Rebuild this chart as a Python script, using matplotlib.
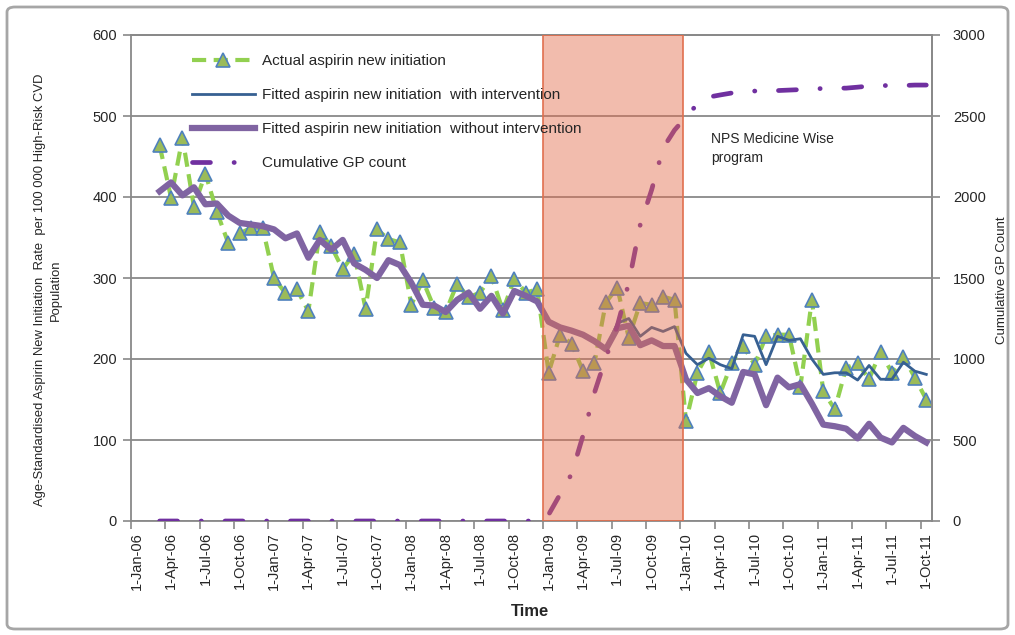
import matplotlib.pyplot as plt
import matplotlib.patches as mpatches
from matplotlib.ticker import NullFormatter
import pandas as pd

plt.rcParams['font.family'] = ['Liberation Sans', 'DejaVu Sans']

# monthly series, Mar 2006 - Oct 2011
months = pd.date_range("2006-03-01", "2011-10-01", freq="MS")

actual = [464, 399, 473, 388, 429, 382, 343, 355, 362, 362, 300, 281,
          286, 259, 357, 339, 311, 330, 262, 360, 348, 344, 267, 297,
          263, 258, 293, 276, 282, 302, 260, 299, 282, 286,
          183, 230, 219, 185, 195, 270, 288, 226, 269, 267, 277, 273,
          123, 183, 209, 158, 195, 216, 193, 228, 230, 230, 166, 273,
          160, 138, 189, 195, 175, 209, 183, 203, 177, 150]

fit_with = [407, 418, 402, 412, 391, 392, 377, 368, 366, 364, 360, 349,
            355, 325, 347, 335, 347, 318, 310, 300, 322, 316, 294, 267,
            266, 258, 273, 282, 262, 278, 256, 284, 278, 271,
            246, 239, 235, 230, 222, 212, 244, 250, 228, 239, 234, 240,
            207, 193, 201, 193, 188, 230, 228, 193, 228, 223, 225, 200,
            181, 183, 183, 174, 192, 175, 175, 196, 185, 181]

fit_without = [407, 418, 402, 412, 391, 392, 377, 368, 366, 364, 360, 349,
               355, 325, 347, 335, 347, 318, 310, 300, 322, 316, 294, 267,
               266, 258, 273, 282, 262, 278, 256, 284, 278, 271,
               246, 239, 235, 230, 222, 212, 238, 241, 217, 223, 216, 216,
               175, 158, 164, 154, 146, 184, 181, 143, 177, 165, 169, 145,
               119, 117, 114, 102, 120, 103, 97, 115, 105, 97]

gp_count = [0, 0, 0, 0, 0, 0, 0, 0, 0, 0, 0, 0,
            0, 0, 0, 0, 0, 0, 0, 0, 0, 0, 0, 0,
            0, 0, 0, 0, 0, 0, 0, 0, 0, 0,
            40, 165, 290, 527, 792, 1008, 1205, 1470, 1828, 2044, 2302, 2413,
            2494, 2574, 2617, 2630, 2642, 2648, 2654, 2654, 2657, 2660, 2663, 2667,
            2670, 2672, 2672, 2678, 2685, 2688, 2688, 2688, 2691, 2691]

tick_dates = pd.date_range("2006-01-01", "2011-10-01", freq="3MS")
program = (pd.Timestamp("2009-01-01"), pd.Timestamp("2010-01-01"))


def month_pos(d):
    # months since Jan 2006, each month is one slot on the axis
    return (d.year - 2006) * 12 + d.month - 1


x = [month_pos(d) + 0.5 for d in months]

fig = plt.figure(figsize=(10.15, 6.35), dpi=100)
ax1 = fig.add_axes([131 / 1015, 1 - 521 / 635, 801 / 1015, 486 / 635])
ax2 = ax1.twinx()

grey = '#898989'
txt = '#262626'

l1, = ax1.plot(x, actual, color='#92D050', lw=3, ls=(0, (3.4, 1.8)),
               marker='^', ms=10, mfc='#9BBB59', mec='#4F81BD', mew=1.2,
               zorder=2, label='Actual aspirin new initiation')
l2, = ax1.plot(x, fit_with, color='#376092', lw=2, zorder=3,
               label='Fitted aspirin new initiation  with intervention')
l3, = ax1.plot(x, fit_without, color='#8064A2', lw=4.5, zorder=4,
               label='Fitted aspirin new initiation  without intervention')
l4, = ax2.plot(x, gp_count, color='#7030A0', lw=3.4,
               ls=(0, (3.8, 5.0, 0.05, 5.0)), dash_capstyle='round',
               zorder=3, label='Cumulative GP count')

# program period
p0, p1 = month_pos(program[0]), month_pos(program[1])
ax2.add_patch(mpatches.Rectangle((p0, 0), p1 - p0 + 0.2, 3000,
                                 facecolor=(0.894, 0.424, 0.29, 0.45),
                                 edgecolor='#E0704F', lw=1.2, zorder=5))

ax1.set_xlim(0, 70)
ax1.set_ylim(0, 600)
ax2.set_ylim(0, 3000)
ax1.set_yticks(range(0, 601, 100))
ax2.set_yticks(range(0, 3001, 500))

# tick marks on slot edges, labels centred in the slot
ax1.set_xticks([month_pos(d) for d in tick_dates])
ax1.xaxis.set_major_formatter(NullFormatter())
ax1.set_xticks([month_pos(d) + 0.5 for d in tick_dates], minor=True)
ax1.set_xticklabels([f"{d.day}-{d.strftime('%b')}-{d.strftime('%y')}"
                     for d in tick_dates], minor=True, rotation=90)

ax1.yaxis.grid(True, color=grey, lw=1.3)
ax1.set_axisbelow(True)

for ax in (ax1, ax2):
    for s in ax.spines.values():
        s.set_color(grey)
        s.set_linewidth(1.3)
    ax.tick_params(axis='both', colors=grey, labelcolor=txt, labelsize=10.5,
                   length=6, width=1.2, direction='out')
ax1.tick_params(axis='y', pad=4)
ax2.tick_params(axis='y', pad=9)
ax1.tick_params(axis='x', which='minor', length=0, pad=8, labelsize=10.5,
                labelcolor=txt)
ax2.spines['left'].set_visible(False)
ax2.spines['bottom'].set_visible(False)

ax1.text(50.7, 480, 'NPS Medicine Wise\nprogram', fontsize=10, color=txt,
         va='top', ha='left', linespacing=1.45, zorder=6)

leg = ax2.legend(handles=[l1, l2, l3, l4], loc='upper left',
                 bbox_to_anchor=(0.076, 0.96), frameon=False,
                 borderaxespad=0, borderpad=0, fontsize=11,
                 handlelength=4.1, handletextpad=0.48, labelspacing=1.3)
for t in leg.get_texts():
    t.set_color(txt)

fig.text(530 / 1015, 1 - 612 / 635, 'Time', ha='center', va='center',
         fontsize=12, weight='bold', color=txt)
fig.text(48 / 1015, 1 - 290 / 635,
         'Age-Standardised Aspirin New Initiation  Rate  per 100 000 High-Risk CVD\nPopulation',
         rotation=90, ha='center', va='center', multialignment='center',
         fontsize=9.4, color=txt, linespacing=1.45)
fig.text(1002 / 1015, 1 - 280 / 635, 'Cumulative GP Count', rotation=90,
         ha='center', va='center', fontsize=9.5, color=txt)

# chart frame
fig.add_artist(mpatches.FancyBboxPatch((7 / 1015, 6 / 635), 1001 / 1015, 622 / 635,
                                       boxstyle='round,pad=0,rounding_size=0.008',
                                       transform=fig.transFigure, fill=False,
                                       ec='#A6A6A6', lw=2))

fig.savefig('out.png', dpi=100)
